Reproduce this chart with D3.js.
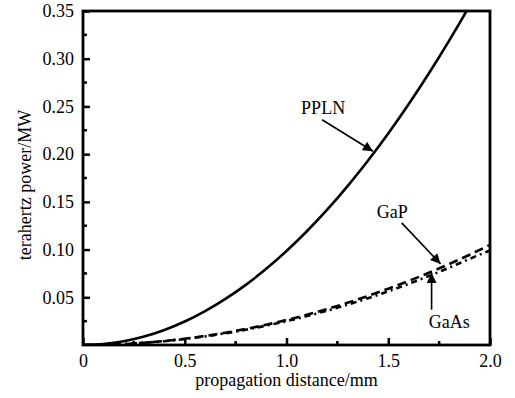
<!DOCTYPE html>
<html>
<head>
<meta charset="utf-8">
<script src="https://cdn.jsdelivr.net/npm/d3@7"></script>
<style>
  body { margin: 0; background: #fff; }
  svg text { font-family: "Liberation Serif", "Times New Roman", serif !important; fill: #000; }
</style>
</head>
<body>
<div id="chart"></div>
<script>
// values (distance in mm, power in MW)
var distance = [0, 0.1, 0.2, 0.3, 0.4, 0.5, 0.6, 0.7, 0.8, 0.9, 1.0, 1.1, 1.2, 1.3, 1.4, 1.5, 1.6, 1.7, 1.8, 1.9, 2.0];
var ppln = [0, 0.001, 0.0039, 0.0089, 0.0158, 0.0246, 0.0355, 0.0483, 0.063, 0.0798, 0.0985, 0.1192, 0.1418, 0.1665, 0.1931, 0.2216, 0.2522, 0.2847, 0.3192, 0.3556, 0.394];
var gap  = [0, 0.0003, 0.001, 0.0024, 0.0042, 0.0066, 0.0095, 0.0129, 0.0168, 0.0212, 0.0262, 0.0317, 0.0377, 0.0443, 0.0514, 0.059, 0.0671, 0.0757, 0.0849, 0.0946, 0.105];
var gaas = [0, 0.0003, 0.001, 0.0023, 0.004, 0.0063, 0.009, 0.0123, 0.016, 0.0203, 0.025, 0.0303, 0.036, 0.0423, 0.049, 0.0563, 0.064, 0.0723, 0.081, 0.0903, 0.099];

var xTicks = [0, 0.5, 1.0, 1.5, 2.0];
var yTicks = [0.05, 0.10, 0.15, 0.20, 0.25, 0.30, 0.35];
var xMinor = [0.25, 0.75, 1.25, 1.75];
var yMinor = [0.025, 0.075, 0.125, 0.175, 0.225, 0.275, 0.325];

// annotation: label, label position, arrow start, arrow tip (data units)
var notes = [
  {name: "PPLN", lx: 1.18, ly: 0.242, x1: 1.175, y1: 0.236, x2: 1.425, y2: 0.203},
  {name: "GaP",  lx: 1.52, ly: 0.133, x1: 1.566, y1: 0.128, x2: 1.757, y2: 0.085},
  {name: "GaAs", lx: 1.80, ly: 0.018, x1: 1.713, y1: 0.037, x2: 1.713, y2: 0.0755}
];

var W = 515, H = 398;
var m = {left: 83, right: 25, top: 11, bottom: 53};

var svg = d3.select('#chart').append('svg')
    .attr('width', W)
    .attr('height', H);

svg.append('defs').append('marker')
    .attr('id', 'arrow')
    .attr('viewBox', '0 0 10 10')
    .attr('refX', 10).attr('refY', 5)
    .attr('markerWidth', 11).attr('markerHeight', 10)
    .attr('markerUnits', 'userSpaceOnUse')
    .attr('orient', 'auto')
    .append('path')
    .attr('d', 'M0,0 L10,5 L0,10 Z')
    .attr('fill', '#000');

var x = d3.scaleLinear().domain([0, 2]).range([m.left, W - m.right]);
var y = d3.scaleLinear().domain([0, 0.35]).range([H - m.bottom, m.top]);

svg.append('clipPath').attr('id', 'plot')
  .append('rect')
    .attr('x', m.left).attr('y', m.top)
    .attr('width', W - m.left - m.right).attr('height', H - m.top - m.bottom);

var line = function(vals) {
  return d3.line()
    .curve(d3.curveMonotoneX)
    .x(function(d, i) { return x(distance[i]); })
    .y(function(d) { return y(d); })(vals);
};

var g = svg.append('g').attr('clip-path', 'url(#plot)');
g.append('path').attr('d', line(ppln))
  .attr('fill', 'none').attr('stroke', '#000').attr('stroke-width', 2.6);
g.append('path').attr('d', line(gap))
  .attr('fill', 'none').attr('stroke', '#000').attr('stroke-width', 2.6)
  .attr('stroke-dasharray', '9,5');
g.append('path').attr('d', line(gaas))
  .attr('fill', 'none').attr('stroke', '#000').attr('stroke-width', 2.6)
  .attr('stroke-dasharray', '6,4,2,4');

// axes, ticks pointing inward
var xAxis = d3.axisBottom(x).tickValues(xTicks).tickSizeInner(-7).tickSizeOuter(0)
  .tickPadding(9).tickFormat(function(d) { return d === 0 ? '0' : d3.format('.1f')(d); });
var yAxis = d3.axisLeft(y).tickValues(yTicks).tickSizeInner(-7).tickSizeOuter(0)
  .tickPadding(9).tickFormat(d3.format('.2f'));

var gx = svg.append('g').attr('transform', 'translate(0,' + (H - m.bottom) + ')').call(xAxis);
var gy = svg.append('g').attr('transform', 'translate(' + m.left + ',0)').call(yAxis);
[gx, gy].forEach(function(a) {
  a.attr('font-family', null).attr('font-size', null);
  a.select('.domain').remove();
  a.selectAll('line').attr('stroke', '#000').attr('stroke-width', 2.5);
  a.selectAll('text').style('font-size', '18px').attr('fill', '#000');
});

svg.append('g').selectAll('line').data(xMinor).enter().append('line')
  .attr('x1', function(d) { return x(d); }).attr('x2', function(d) { return x(d); })
  .attr('y1', H - m.bottom).attr('y2', H - m.bottom - 4)
  .attr('stroke', '#000').attr('stroke-width', 2.5);
svg.append('g').selectAll('line').data(yMinor).enter().append('line')
  .attr('y1', function(d) { return y(d); }).attr('y2', function(d) { return y(d); })
  .attr('x1', m.left).attr('x2', m.left + 4)
  .attr('stroke', '#000').attr('stroke-width', 2.5);

svg.append('rect')
  .attr('x', m.left).attr('y', m.top)
  .attr('width', W - m.left - m.right).attr('height', H - m.top - m.bottom)
  .attr('fill', 'none').attr('stroke', '#000').attr('stroke-width', 2.8);

// annotations
var note = svg.append('g').selectAll('g').data(notes).enter().append('g');
note.append('text')
  .attr('x', function(d) { return x(d.lx); })
  .attr('y', function(d) { return y(d.ly); })
  .attr('text-anchor', 'middle')
  .style('font-size', '18px')
  .text(function(d) { return d.name; });
note.append('line')
  .attr('x1', function(d) { return x(d.x1); }).attr('y1', function(d) { return y(d.y1); })
  .attr('x2', function(d) { return x(d.x2); }).attr('y2', function(d) { return y(d.y2); })
  .attr('stroke', '#000').attr('stroke-width', 1.6)
  .attr('marker-end', 'url(#arrow)');

svg.append('text')
  .attr('x', (m.left + W - m.right) / 2).attr('y', 386)
  .attr('text-anchor', 'middle').style('font-size', '18px')
  .text('propagation distance/mm');
svg.append('text')
  .attr('transform', 'translate(31,' + ((m.top + H - m.bottom) / 2 + 7) + ') rotate(-90)')
  .attr('text-anchor', 'middle').style('font-size', '18px')
  .text('terahertz power/MW');
</script>
</body>
</html>
